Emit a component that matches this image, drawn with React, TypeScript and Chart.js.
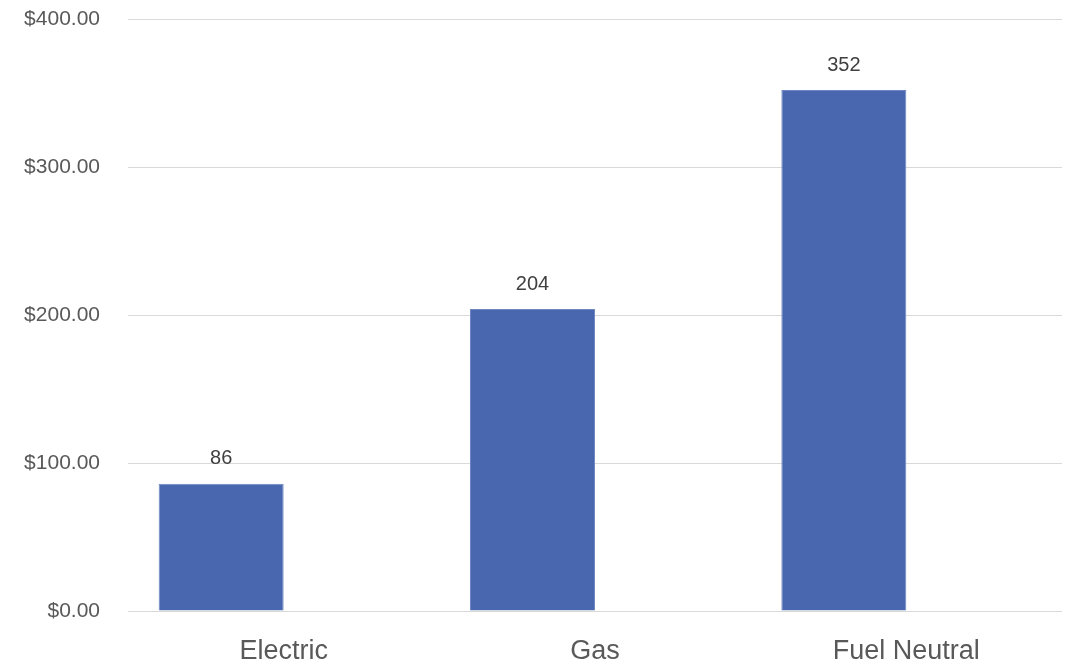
import React, { useEffect, useRef } from "react";
import { Chart, registerables } from "chart.js";

Chart.register(...registerables);

const categories = ["Electric", "Gas", "Fuel Neutral"];
const costValues = [86, 204, 352];
const emptySeries = [null, null, null];
const yTicks = [0, 100, 200, 300, 400];

const FONT = "'Liberation Sans', Arial, sans-serif";

const dataLabelPlugin = {
  id: "dataLabels",
  afterDatasetsDraw(chart: any) {
    const ctx = chart.ctx;
    const meta = chart.getDatasetMeta(0);
    ctx.save();
    ctx.font = `20px ${FONT}`;
    ctx.fillStyle = "#404040";
    ctx.textAlign = "center";
    ctx.textBaseline = "middle";
    meta.data.forEach((bar: any, i: number) => {
      ctx.fillText(String(costValues[i]), bar.x, bar.y - 25);
    });
    ctx.restore();
  },
};

export default function App() {
  const ref = useRef<HTMLCanvasElement>(null);
  useEffect(() => {
    if (!ref.current) return;
    const chart = new Chart(ref.current, {
      type: "bar",
      data: {
        labels: categories,
        datasets: [
          {
            label: "Cost",
            data: costValues,
            backgroundColor: "#4967AE",
            borderColor: "#6F88C2",
            borderWidth: 1,
            categoryPercentage: 0.803,
            barPercentage: 1,
          },
          {
            label: "",
            data: emptySeries as any,
            backgroundColor: "#ED7D31",
            categoryPercentage: 0.803,
            barPercentage: 1,
          },
        ],
      },
      options: {
        animation: false,
        responsive: false,
        layout: { padding: { top: 19, right: 9, left: 0, bottom: 0 } },
        plugins: { legend: { display: false }, tooltip: { enabled: false } },
        scales: {
          x: {
            grid: { display: false, drawTicks: false },
            border: { display: false },
            ticks: {
              color: "#595959",
              font: { family: FONT, size: 27 },
              padding: 24,
            },
            afterFit(scale: any) {
              scale.height = 55;
            },
          },
          y: {
            min: 0,
            max: 400,
            afterBuildTicks(scale: any) {
              scale.ticks = yTicks.map((v) => ({ value: v }));
            },
            grid: { color: "#D9D9D9", lineWidth: 1, drawTicks: false },
            border: { display: false },
            ticks: {
              color: "#595959",
              font: { family: FONT, size: 21 },
              padding: 28,
              callback: (v: any) => "$" + Number(v).toFixed(2),
            },
            afterFit(scale: any) {
              scale.width = 128;
              scale.paddingTop = 0;
              scale.paddingBottom = 0;
            },
          },
        },
      },
      plugins: [dataLabelPlugin],
    });
    return () => chart.destroy();
  }, []);
  return (
    <div style={{ position: "absolute", left: 0, top: 0, width: 1071, height: 666, background: "#fff" }}>
      <canvas ref={ref} width={1071} height={666} />
    </div>
  );
}
